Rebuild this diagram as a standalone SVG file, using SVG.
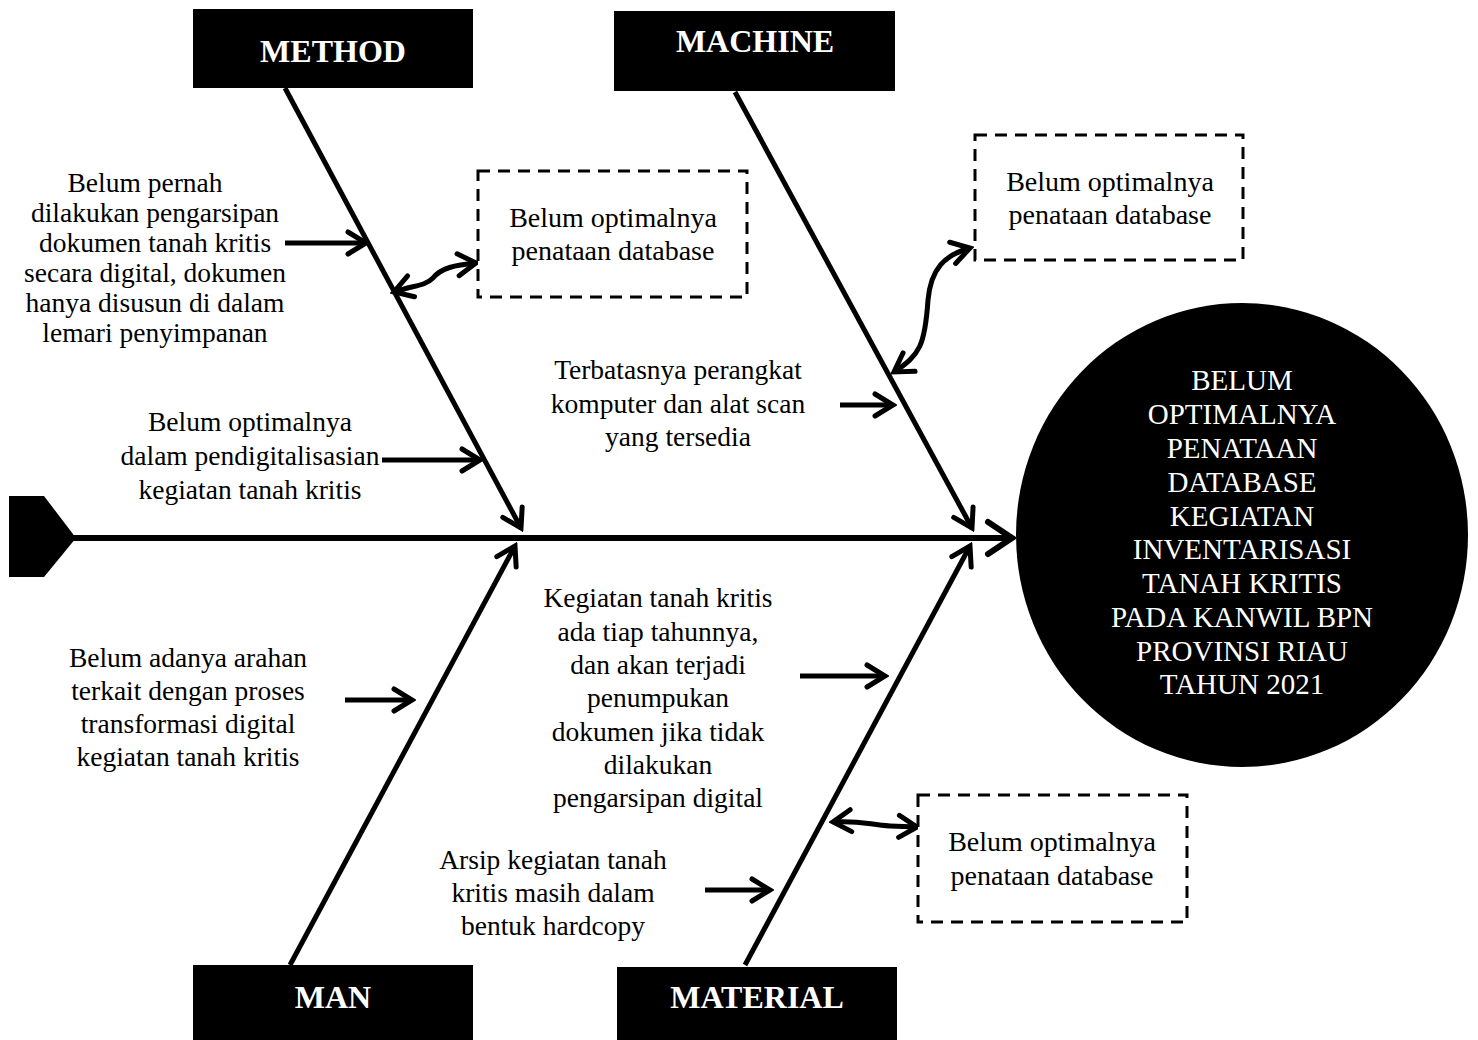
<svg xmlns="http://www.w3.org/2000/svg" width="1478" height="1040" viewBox="0 0 1478 1040">
<style>
text{font-family:"Liberation Serif","Times New Roman",serif;fill:#000;text-anchor:middle}
.t{font-size:27.5px}
.b{font-size:28px}
.h{font-size:32px;font-weight:bold;fill:#fff}
.e{font-size:29px;fill:#fff}
.bone{stroke:#000;stroke-width:4.5;fill:none}
.arr{stroke:#000;stroke-width:5;fill:none;marker-end:url(#ah)}
.wav{stroke:#000;stroke-width:5;fill:none;marker-end:url(#ah);marker-start:url(#ah)}
.dash{fill:#fff;stroke:#000;stroke-width:3;stroke-dasharray:12,8}
</style>
<defs>
<marker id="ah" viewBox="0 0 30 30" refX="26" refY="15" markerWidth="30" markerHeight="30" orient="auto-start-reverse" markerUnits="userSpaceOnUse">
<path d="M8,4 L26,15 L8,26" fill="none" stroke="#000" stroke-width="5" stroke-linecap="round"/>
</marker>
<marker id="ahb" viewBox="0 0 40 40" refX="36" refY="20" markerWidth="40" markerHeight="40" orient="auto" markerUnits="userSpaceOnUse">
<path d="M12,4 L36,20 L12,36" fill="none" stroke="#000" stroke-width="6" stroke-linecap="round"/>
</marker>
</defs>
<rect width="1478" height="1040" fill="#fff"/>
<g id="connectors">
<polygon points="9,496 44,496 76,538 44,577 9,577" fill="#000"/>
<line x1="70" y1="538" x2="1012" y2="538" stroke="#000" stroke-width="6" marker-end="url(#ahb)"/>
<line class="arr" x1="285" y1="88" x2="521" y2="528"/>
<line class="arr" x1="735" y1="92" x2="972" y2="528"/>
<line class="arr" x1="290" y1="965" x2="515" y2="546"/>
<line class="arr" x1="745" y1="965" x2="970" y2="546"/>
<line class="arr" x1="285" y1="243" x2="366" y2="243"/>
<line class="arr" x1="382" y1="460" x2="480" y2="460"/>
<line class="arr" x1="840" y1="405" x2="893" y2="405"/>
<line class="arr" x1="345" y1="700" x2="412" y2="700"/>
<line class="arr" x1="800" y1="676" x2="885" y2="676"/>
<line class="arr" x1="705" y1="890" x2="770" y2="890"/>
<path class="wav" d="M394,292 C415,285 425,286 433,278 C441,268 455,265 476,263"/>
<path class="wav" d="M894,372 C920,355 925,345 928,300 C931,268 945,255 970,248"/>
<path class="wav" d="M833,822 C860,820 870,825 890,826 L917,827"/>
</g>
<g id="method"><rect x="193" y="9" width="280" height="79" fill="#000"/><text class="h" x="333" y="62">METHOD</text></g>
<g id="machine"><rect x="614" y="11" width="281" height="80" fill="#000"/><text class="h" x="755" y="52">MACHINE</text></g>
<g id="man"><rect x="193" y="965" width="280" height="75" fill="#000"/><text class="h" x="333" y="1008">MAN</text></g>
<g id="material"><rect x="617" y="967" width="280" height="73" fill="#000"/><text class="h" x="757" y="1008">MATERIAL</text></g>
<g id="effect">
<ellipse cx="1242" cy="535" rx="226" ry="232" fill="#000"/>
<text class="e" x="1242" y="390">BELUM</text>
<text class="e" x="1242" y="424">OPTIMALNYA</text>
<text class="e" x="1242" y="458">PENATAAN</text>
<text class="e" x="1242" y="492">DATABASE</text>
<text class="e" x="1242" y="526">KEGIATAN</text>
<text class="e" x="1242" y="559">INVENTARISASI</text>
<text class="e" x="1242" y="593">TANAH KRITIS</text>
<text class="e" x="1242" y="627">PADA KANWIL BPN</text>
<text class="e" x="1242" y="661">PROVINSI RIAU</text>
<text class="e" x="1242" y="694">TAHUN 2021</text>
</g>
<g id="box1"><rect class="dash" x="478" y="171" width="269" height="126"/><text class="b" x="613" y="227">Belum optimalnya</text><text class="b" x="613" y="260">penataan database</text></g>
<g id="box2"><rect class="dash" x="975" y="135" width="268" height="125"/><text class="b" x="1110" y="191">Belum optimalnya</text><text class="b" x="1110" y="224">penataan database</text></g>
<g id="box3"><rect class="dash" x="918" y="795" width="269" height="127"/><text class="b" x="1052" y="851">Belum optimalnya</text><text class="b" x="1052" y="885">penataan database</text></g>
<g id="cause-method-1">
<text class="t" x="145" y="192">Belum pernah</text>
<text class="t" x="155" y="222">dilakukan pengarsipan</text>
<text class="t" x="155" y="252">dokumen tanah kritis</text>
<text class="t" x="155" y="282">secara digital, dokumen</text>
<text class="t" x="155" y="312">hanya disusun di dalam</text>
<text class="t" x="155" y="342">lemari penyimpanan</text>
</g>
<g id="cause-method-2">
<text class="t" x="250" y="431">Belum optimalnya</text>
<text class="t" x="250" y="465">dalam pendigitalisasian</text>
<text class="t" x="250" y="499">kegiatan tanah kritis</text>
</g>
<g id="cause-machine">
<text class="t" x="678" y="379">Terbatasnya perangkat</text>
<text class="t" x="678" y="413">komputer dan alat scan</text>
<text class="t" x="678" y="446">yang tersedia</text>
</g>
<g id="cause-man">
<text class="t" x="188" y="667">Belum adanya arahan</text>
<text class="t" x="188" y="700">terkait dengan proses</text>
<text class="t" x="188" y="733">transformasi digital</text>
<text class="t" x="188" y="766">kegiatan tanah kritis</text>
</g>
<g id="cause-material-1">
<text class="t" x="658" y="607">Kegiatan tanah kritis</text>
<text class="t" x="658" y="641">ada tiap tahunnya,</text>
<text class="t" x="658" y="674">dan akan terjadi</text>
<text class="t" x="658" y="707">penumpukan</text>
<text class="t" x="658" y="741">dokumen jika tidak</text>
<text class="t" x="658" y="774">dilakukan</text>
<text class="t" x="658" y="807">pengarsipan digital</text>
</g>
<g id="cause-material-2">
<text class="t" x="553" y="869">Arsip kegiatan tanah</text>
<text class="t" x="553" y="902">kritis masih dalam</text>
<text class="t" x="553" y="935">bentuk hardcopy</text>
</g>
</svg>
